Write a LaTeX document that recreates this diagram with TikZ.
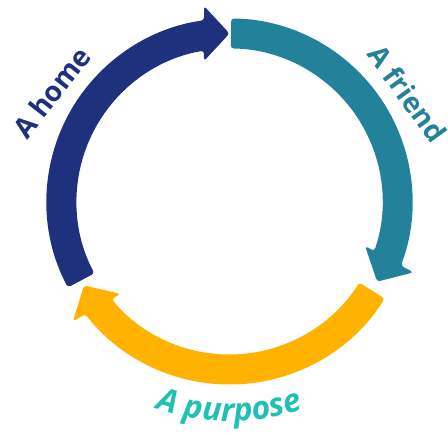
\documentclass[tikz,border=0pt]{standalone}
\usepackage{fontspec}
\setmainfont{Open Sans}
\usetikzlibrary{decorations.text}
\definecolor{homeblue}{HTML}{1F317D}
\definecolor{friendteal}{HTML}{23829A}
\definecolor{purposegold}{HTML}{FFB300}
\definecolor{purposetext}{HTML}{20C0B4}
\tikzstyle{cycleLabel} = [font=\bfseries\fontsize{28}{30}\selectfont, inner sep=0pt]
% one arc arrow of the cycle, tip at 90 degrees before rotating
\newcommand{\cycleArrow}[2]{%
    \fill [#1, rounded corners=3pt, rotate=#2]
        (208:183) arc [start angle=208, end angle=98, radius=183]
        -- (-25.5,195.5) -- (0,168) -- (-25.5,140.5)
        -- (99.6:153) arc [start angle=99.6, end angle=208, radius=153] -- cycle;
}

\begin{document}
\begin{tikzpicture}[x=1pt, y=1pt]
    \useasboundingbox (-229.5,-232.5) rectangle (218.5,201.5);
    \cycleArrow{homeblue}{0}
    \cycleArrow{friendteal}{-118.5}
    \cycleArrow{purposegold}{-240}
    \node (home) [cycleLabel, text=homeblue, rotate=52] at (-178,109) {A home};
    \node (friend) [cycleLabel, text=friendteal, rotate=-54] at (178,108) {A friend};
    \path [decorate, decoration={text along path, text align=center,
        text={|\color{purposetext}\bfseries\itshape\fontsize{32}{34}\selectfont|A purpose}}]
        (245:220) arc [start angle=245, end angle=295, radius=220];
\end{tikzpicture}
\end{document}
